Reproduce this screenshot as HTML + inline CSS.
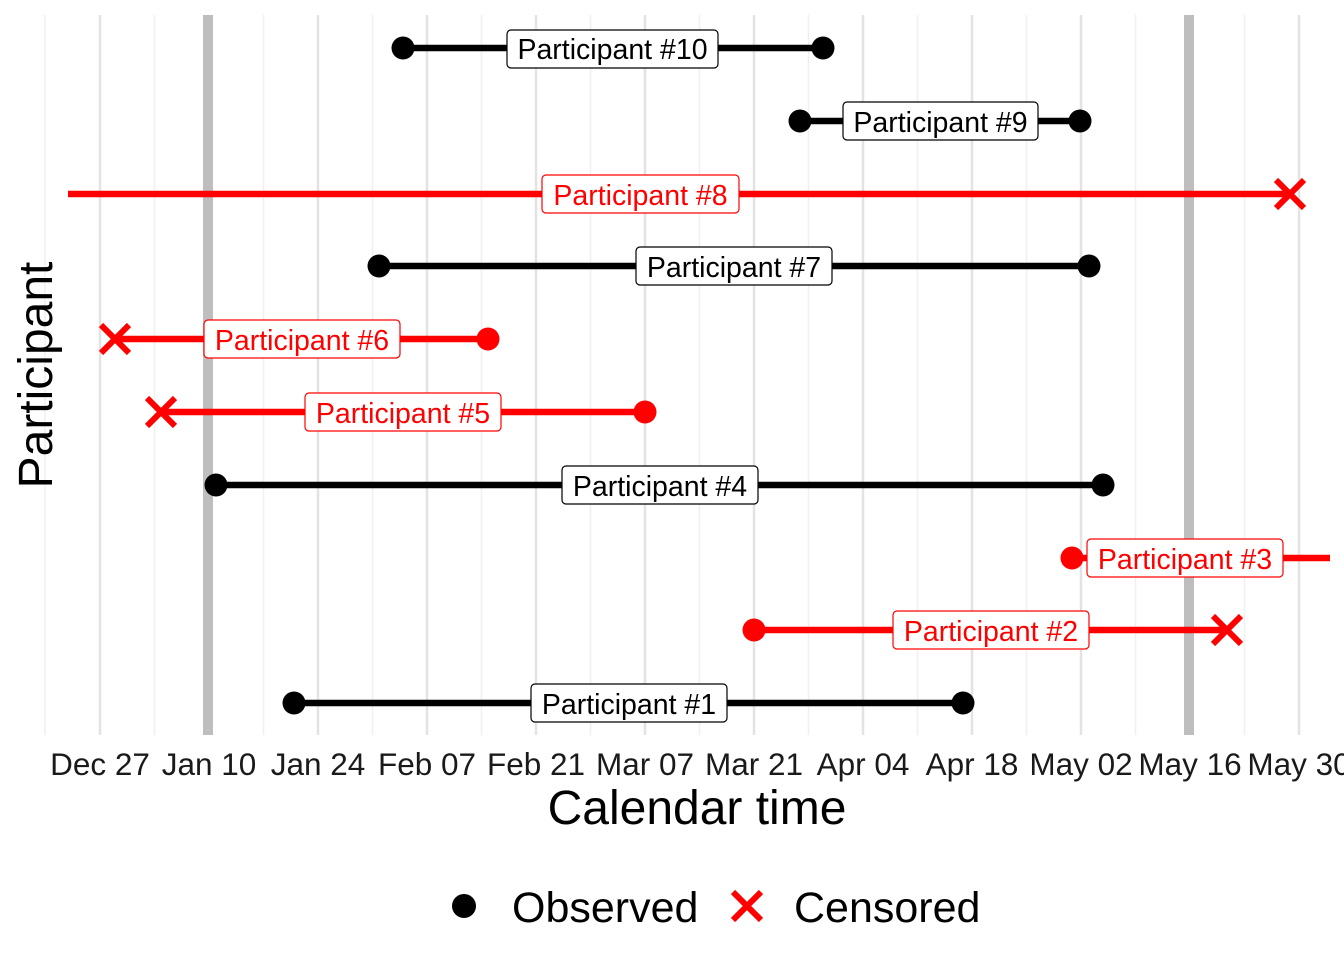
<!DOCTYPE html>
<html><head><meta charset="utf-8"><style>
html,body{margin:0;padding:0;background:#fff;}
svg{display:block;font-family:"Liberation Sans",Arial,sans-serif;}
</style></head><body>
<svg width="1344" height="960" viewBox="0 0 1344 960" xmlns="http://www.w3.org/2000/svg">
<rect width="1344" height="960" fill="#fff"/>
<g stroke="#f0f0f0" stroke-width="1.5">
<line x1="45" y1="15" x2="45" y2="735"/>
<line x1="154.5" y1="15" x2="154.5" y2="735"/>
<line x1="263.5" y1="15" x2="263.5" y2="735"/>
<line x1="372.5" y1="15" x2="372.5" y2="735"/>
<line x1="481.5" y1="15" x2="481.5" y2="735"/>
<line x1="590.5" y1="15" x2="590.5" y2="735"/>
<line x1="699.5" y1="15" x2="699.5" y2="735"/>
<line x1="808.5" y1="15" x2="808.5" y2="735"/>
<line x1="917.5" y1="15" x2="917.5" y2="735"/>
<line x1="1026.5" y1="15" x2="1026.5" y2="735"/>
<line x1="1135.5" y1="15" x2="1135.5" y2="735"/>
<line x1="1244.5" y1="15" x2="1244.5" y2="735"/>
</g>
<g stroke="#e3e3e3" stroke-width="2.5">
<line x1="100" y1="15" x2="100" y2="735"/>
<line x1="209" y1="15" x2="209" y2="735"/>
<line x1="318" y1="15" x2="318" y2="735"/>
<line x1="427" y1="15" x2="427" y2="735"/>
<line x1="536" y1="15" x2="536" y2="735"/>
<line x1="645" y1="15" x2="645" y2="735"/>
<line x1="754" y1="15" x2="754" y2="735"/>
<line x1="863" y1="15" x2="863" y2="735"/>
<line x1="972" y1="15" x2="972" y2="735"/>
<line x1="1081" y1="15" x2="1081" y2="735"/>
<line x1="1190" y1="15" x2="1190" y2="735"/>
<line x1="1299" y1="15" x2="1299" y2="735"/>
</g>
<rect x="203" y="15" width="10" height="720" fill="#bebebe"/>
<rect x="1184" y="15" width="10" height="720" fill="#bebebe"/>

<g stroke-width="6.5" fill="none">
<line x1="403" y1="48" x2="823" y2="48" stroke="#000"/>
<line x1="800" y1="121" x2="1080" y2="121" stroke="#000"/>
<line x1="68" y1="194" x2="1290" y2="194" stroke="#f00"/>
<line x1="379" y1="266" x2="1089" y2="266" stroke="#000"/>
<line x1="115" y1="339" x2="488" y2="339" stroke="#f00"/>
<line x1="161" y1="412" x2="645" y2="412" stroke="#f00"/>
<line x1="216" y1="485" x2="1103" y2="485" stroke="#000"/>
<line x1="1072" y1="558" x2="1330" y2="558" stroke="#f00"/>
<line x1="754" y1="630" x2="1227" y2="630" stroke="#f00"/>
<line x1="294" y1="703" x2="963" y2="703" stroke="#000"/>
</g>
<g>
<circle cx="403" cy="48" r="11.5"/><circle cx="823" cy="48" r="11.5"/>
<circle cx="800" cy="121" r="11.5"/><circle cx="1080" cy="121" r="11.5"/>
<circle cx="379" cy="266" r="11.5"/><circle cx="1089" cy="266" r="11.5"/>
<circle cx="488" cy="339" r="11.5" fill="#f00"/>
<circle cx="645" cy="412" r="11.5" fill="#f00"/>
<circle cx="216" cy="485" r="11.5"/><circle cx="1103" cy="485" r="11.5"/>
<circle cx="1072" cy="558" r="11.5" fill="#f00"/>
<circle cx="754" cy="630" r="11.5" fill="#f00"/>
<circle cx="294" cy="703" r="11.5"/><circle cx="963" cy="703" r="11.5"/>
</g>
<g stroke="#f00" stroke-width="6">
<path d="M1276 180 L1304 208 M1304 180 L1276 208"/>
<path d="M101 325 L129 353 M129 325 L101 353"/>
<path d="M147 398 L175 426 M175 398 L147 426"/>
<path d="M1213 616 L1241 644 M1241 616 L1213 644"/>
</g>

<g font-size="28.5" text-anchor="middle">
<rect x="507" y="30" width="211" height="38" rx="4" fill="#fff" stroke="#000" stroke-width="1.2"/><text x="612.5" y="59">Participant #10</text>
<rect x="843" y="102" width="195" height="38" rx="4" fill="#fff" stroke="#000" stroke-width="1.2"/><text x="940.5" y="132">Participant #9</text>
<rect x="542" y="175" width="197" height="38" rx="4" fill="#fff" stroke="#f00" stroke-width="1.2"/><text x="640.5" y="205" fill="#f00">Participant #8</text>
<rect x="636" y="247" width="196" height="38" rx="4" fill="#fff" stroke="#000" stroke-width="1.2"/><text x="734" y="277">Participant #7</text>
<rect x="204" y="320" width="196" height="38" rx="4" fill="#fff" stroke="#f00" stroke-width="1.2"/><text x="302" y="350" fill="#f00">Participant #6</text>
<rect x="305" y="393" width="196" height="38" rx="4" fill="#fff" stroke="#f00" stroke-width="1.2"/><text x="403" y="423" fill="#f00">Participant #5</text>
<rect x="562" y="466" width="196" height="38" rx="4" fill="#fff" stroke="#000" stroke-width="1.2"/><text x="660" y="496">Participant #4</text>
<rect x="1087" y="539" width="196" height="38" rx="4" fill="#fff" stroke="#f00" stroke-width="1.2"/><text x="1185" y="569" fill="#f00">Participant #3</text>
<rect x="893" y="611" width="196" height="38" rx="4" fill="#fff" stroke="#f00" stroke-width="1.2"/><text x="991" y="641" fill="#f00">Participant #2</text>
<rect x="531" y="684" width="196" height="38" rx="4" fill="#fff" stroke="#000" stroke-width="1.2"/><text x="629" y="714">Participant #1</text>
</g>

<g font-size="31.5" text-anchor="middle" fill="#1a1a1a">
<text x="100" y="775">Dec 27</text>
<text x="209" y="775">Jan 10</text>
<text x="318" y="775">Jan 24</text>
<text x="427" y="775">Feb 07</text>
<text x="536" y="775">Feb 21</text>
<text x="645" y="775">Mar 07</text>
<text x="754" y="775">Mar 21</text>
<text x="863" y="775">Apr 04</text>
<text x="972" y="775">Apr 18</text>
<text x="1081" y="775">May 02</text>
<text x="1190" y="775">May 16</text>
<text x="1299" y="775">May 30</text>
</g>
<text x="697" y="824" font-size="48" text-anchor="middle">Calendar time</text>
<text transform="translate(52,375) rotate(-90)" font-size="48" text-anchor="middle">Participant</text>

<circle cx="464" cy="906" r="12"/>
<text x="512" y="922" font-size="43">Observed</text>
<path d="M733 892 L761 920 M761 892 L733 920" stroke="#f00" stroke-width="6"/>
<text x="794" y="922" font-size="43">Censored</text>
</svg>
</body></html>
